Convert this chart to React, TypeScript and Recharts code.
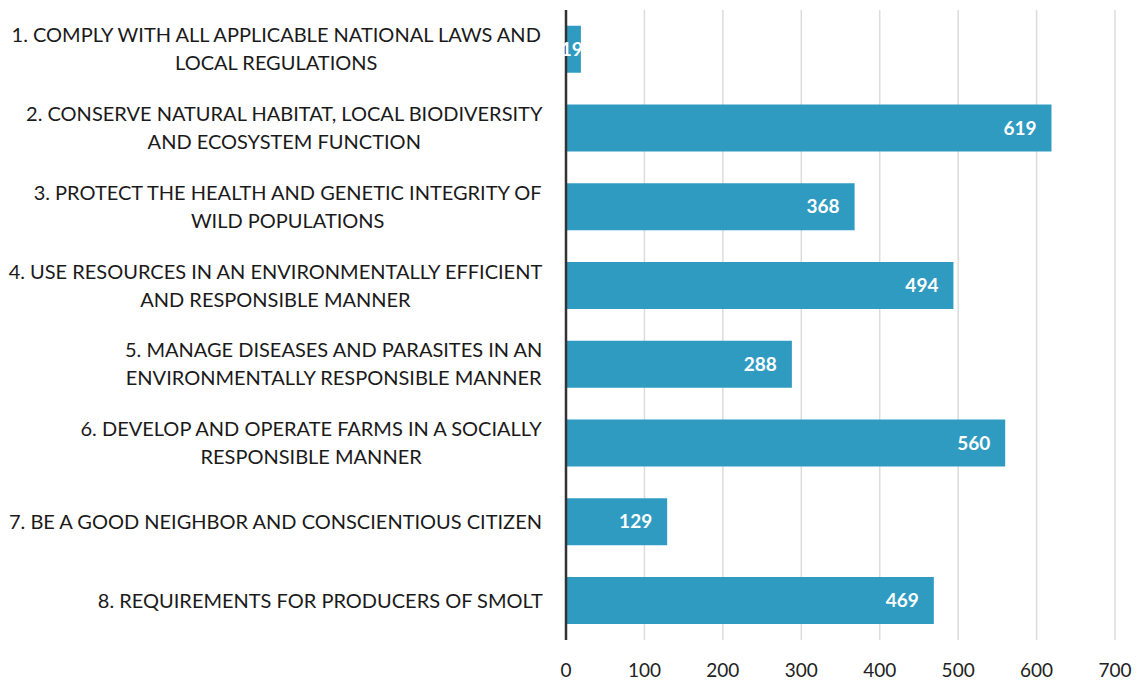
import { BarChart, Bar, XAxis, YAxis, CartesianGrid, LabelList } from 'recharts';

// Category labels, already broken into lines as in the original
const categoryLines: string[][] = [
  ['1. COMPLY WITH ALL APPLICABLE NATIONAL LAWS AND', 'LOCAL REGULATIONS'],
  ['2. CONSERVE NATURAL HABITAT, LOCAL BIODIVERSITY', 'AND ECOSYSTEM FUNCTION'],
  ['3. PROTECT THE HEALTH AND GENETIC INTEGRITY OF', 'WILD POPULATIONS'],
  ['4. USE RESOURCES IN AN ENVIRONMENTALLY EFFICIENT', 'AND RESPONSIBLE MANNER'],
  ['5. MANAGE DISEASES AND PARASITES IN AN', 'ENVIRONMENTALLY RESPONSIBLE MANNER'],
  ['6. DEVELOP AND OPERATE FARMS IN A SOCIALLY', 'RESPONSIBLE MANNER'],
  ['7. BE A GOOD NEIGHBOR AND CONSCIENTIOUS CITIZEN'],
  ['8. REQUIREMENTS FOR PRODUCERS OF SMOLT'],
];
const counts = [19, 619, 368, 494, 288, 560, 129, 469];
const xTicks = [0, 100, 200, 300, 400, 500, 600, 700];

const data = counts.map((v, i) => ({ key: String(i), count: v }));

const FONT = 'Lato, "Open Sans", sans-serif';
const LABEL_SIZE = 20;
const BAR_COLOR = '#2f9bc1';

let ctx: CanvasRenderingContext2D | null = null;
function textWidth(s: string) {
  if (!ctx) ctx = document.createElement('canvas').getContext('2d');
  if (!ctx) return s.length * 11;
  ctx.font = `${LABEL_SIZE}px Lato`;
  return ctx.measureText(s).width;
}

function CategoryTick(props: any) {
  const { x, y, payload } = props;
  const lines = categoryLines[Number(payload.value)] || [];
  const right = x - 15;
  const blockW = Math.max(...lines.map(textWidth));
  const cx = right - blockW / 2;
  const lh = 28;
  const top = y - ((lines.length - 1) * lh) / 2;
  return (
    <g>
      {lines.map((ln, i) => (
        <text
          key={i}
          x={cx}
          y={top + i * lh}
          dy="0.35em"
          textAnchor="middle"
          fontFamily={FONT}
          fontSize={LABEL_SIZE}
          fill="#1a1a1a"
        >
          {ln}
        </text>
      ))}
    </g>
  );
}

function ValueLabel(props: any) {
  const { x, y, width, height, value } = props;
  const end = x + width;
  const tx = width < 40 ? end + 2 : end - 15;
  return (
    <text
      x={tx}
      y={y + height / 2}
      dy="0.35em"
      textAnchor="end"
      fontFamily={FONT}
      fontWeight="bold"
      fontSize={19}
      fill="#ffffff"
    >
      {value}
    </text>
  );
}

export default function App() {
  return (
    <div style={{ position: 'absolute', left: 0, top: 0, background: '#fff' }}>
      <BarChart
        width={1145}
        height={684}
        data={data}
        layout="vertical"
        margin={{ top: 10, right: 30, bottom: 0, left: 0 }}
        barCategoryGap="20%"
      >
        <CartesianGrid horizontal={false} stroke="#dcdcdc" strokeWidth={1.5} />
        <XAxis
          type="number"
          domain={[0, 700]}
          ticks={xTicks}
          axisLine={false}
          tickLine={false}
          height={44}
          tick={{ fontFamily: FONT, fontSize: 19, fill: '#222' }}
          tickMargin={18}
          interval={0}
        />
        <YAxis
          type="category"
          dataKey="key"
          width={566}
          tickLine={false}
          axisLine={{ stroke: '#333', strokeWidth: 2.5 }}
          tick={<CategoryTick />}
          interval={0}
        />
        <Bar dataKey="count" fill={BAR_COLOR} isAnimationActive={false}>
          <LabelList dataKey="count" content={<ValueLabel />} />
        </Bar>
      </BarChart>
    </div>
  );
}
